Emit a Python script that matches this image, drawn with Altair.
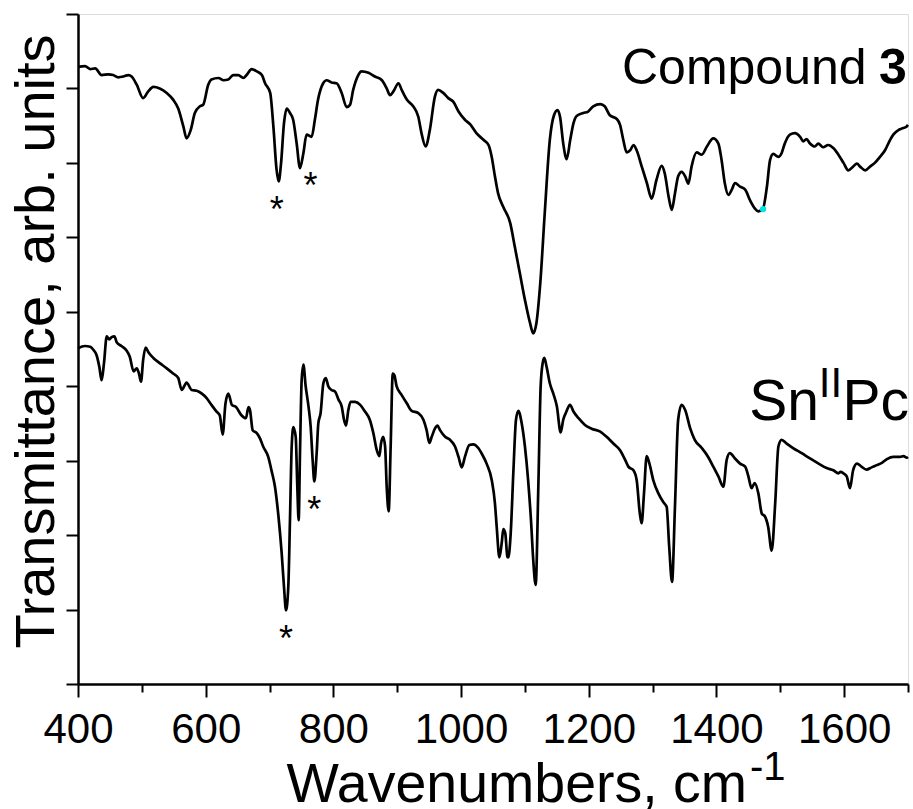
import altair as alt
import pandas as pd

# ---- Compound 3 trace (wavenumber cm^-1, transmittance arb. units) ----
c3_wn = [400, 411, 419, 427, 437, 447.5, 455, 463, 471, 479, 484, 492, 502, 510, 518, 528,
         539, 549, 557, 565, 570, 576.5, 583, 591, 596, 604, 609, 620, 628, 635.5, 643, 651,
         659, 664, 672, 680, 688, 693, 701, 706, 711, 714.3, 718, 722.6, 727, 732, 737, 742.5,
         747.7, 753, 758, 766, 771, 776, 784, 789.5, 797, 805, 813, 820.8, 826, 831, 839, 844,
         855, 865, 876, 883.5, 888.7, 894, 902, 907, 915, 925, 933, 938, 944.5, 951, 959, 964,
         972, 980, 988, 996, 1006, 1014, 1024, 1035, 1043, 1048, 1053, 1058, 1066, 1077, 1084,
         1092, 1100, 1108, 1113, 1118, 1124, 1131, 1139, 1145.5, 1151, 1155, 1160, 1165.4, 1171,
         1176, 1181, 1191.5, 1199, 1207, 1218, 1225, 1233, 1244, 1249, 1254, 1259.4, 1265, 1270,
         1275, 1283, 1291, 1298.5, 1306, 1314, 1319, 1325, 1330, 1335, 1340, 1345.5, 1351, 1356,
         1361, 1369, 1377, 1385, 1395, 1403, 1408, 1413, 1418.6, 1424, 1429, 1437, 1445, 1452.5,
         1460, 1465.6, 1473, 1479, 1484, 1489, 1497, 1502, 1507, 1515, 1523, 1531, 1536, 1541,
         1546.5, 1554, 1559.5, 1567, 1575, 1583, 1591, 1599, 1606.5, 1614, 1620, 1625, 1633,
         1640.5, 1648, 1656, 1664, 1672, 1677, 1685, 1690, 1698, 1700]
c3_tr = [8.29, 8.30, 8.26, 8.27, 8.18, 8.19, 8.18, 8.15, 8.16, 8.18, 8.16, 8.05, 7.87, 7.96, 8.02, 8.00,
         7.94, 7.85, 7.73, 7.49, 7.33, 7.44, 7.67, 7.76, 7.78, 8.05, 8.12, 8.14, 8.11, 8.12, 8.18, 8.18,
         8.14, 8.18, 8.26, 8.23, 8.18, 8.07, 7.94, 7.49, 6.91, 6.75, 6.99, 7.53, 7.73, 7.67, 7.58, 7.26,
         6.93, 7.13, 7.38, 7.35, 7.58, 7.85, 8.07, 8.11, 8.08, 8.07, 7.94, 7.75, 7.78, 7.98, 8.18, 8.23,
         8.21, 8.16, 8.11, 8.00, 7.91, 7.96, 8.07, 7.98, 7.85, 7.76, 7.62, 7.40, 7.22, 7.44, 7.89, 7.98,
         7.94, 7.87, 7.82, 7.69, 7.58, 7.52, 7.40, 7.31, 7.24, 7.08, 6.82, 6.59, 6.41, 6.19, 5.88,
         5.52, 5.16, 4.85, 4.71, 4.85, 5.38, 6.32, 7.31, 7.64, 7.71, 7.62, 7.26, 7.05, 7.31,
         7.53, 7.63, 7.67, 7.69, 7.76, 7.79, 7.76, 7.64, 7.59, 7.51, 7.31, 7.14, 7.17, 7.24,
         7.17, 6.95, 6.73, 6.52, 6.77, 6.96, 6.86, 6.55, 6.37, 6.59, 6.82, 6.88, 6.82, 6.72,
         6.95, 7.14, 7.11, 7.22, 7.33, 7.26, 7.04, 6.73, 6.57, 6.64, 6.73, 6.68, 6.64, 6.50,
         6.39, 6.35, 6.39, 6.68, 7.04, 7.12, 7.08, 7.13, 7.26, 7.38, 7.40, 7.35, 7.29, 7.32,
         7.26, 7.22, 7.26, 7.21, 7.24, 7.20, 7.11, 7.00, 6.90, 6.95, 6.99, 6.95, 6.90,
         6.95, 7.00, 7.08, 7.17, 7.31, 7.38, 7.44, 7.46, 7.49, 7.51]

# ---- Sn(II)Pc trace ----
sn_wn = [400, 411, 419, 424, 429, 433.4, 437, 440.7, 445, 449, 452.7, 457, 460.6, 468, 476, 481,
         487, 492, 495.5, 498.7, 502, 506, 510, 518, 528, 539, 549, 557, 562.4, 567.6, 570, 578,
         586, 594, 601.5, 609, 617, 622, 626.6, 631, 635.5, 641, 647.5, 656, 663, 667, 669.4,
         673.6, 680, 685, 690, 698, 703, 708.5, 714, 719, 722.6, 725.8, 729.4, 732, 734.7, 737.3,
         741, 743.5, 745.6, 747.7, 750.3, 753, 756.6, 761, 764.4, 767.5, 770.2, 773.8, 776.4, 780,
         784.3, 788, 792, 797, 802.5, 808, 813, 816.6, 819.8, 823.4, 827, 834, 842, 849.5, 857,
         862.6, 868, 872, 874.6, 878, 881, 883.5, 886.6, 889.7, 893, 895.5, 899, 907, 915, 922.6,
         933, 941, 946, 950.3, 954, 959, 963, 967, 975, 982.6, 990.5, 996, 1001, 1006, 1013, 1019,
         1027, 1032, 1040, 1048, 1053, 1055.8, 1060, 1063.6, 1066.2, 1069.3, 1072.5, 1074, 1077.7,
         1082, 1086, 1089.7, 1095, 1100, 1105, 1109.5, 1113, 1116.8, 1121, 1124.6, 1127.8, 1130.4,
         1134, 1139, 1144.5, 1150, 1156, 1160, 1165, 1170.6, 1176, 1184, 1194, 1204.5, 1218, 1228,
         1238.5, 1249, 1257, 1262, 1270, 1275, 1280, 1282.8, 1286.5, 1290.7, 1295, 1301, 1309,
         1317, 1322, 1326, 1330.4, 1335, 1340, 1345.5, 1351, 1359, 1366, 1377, 1387, 1395, 1403,
         1410.8, 1416, 1421, 1429, 1437, 1445, 1450, 1455, 1460, 1465.6, 1471, 1476, 1481,
         1486.5, 1492, 1497, 1502, 1510, 1520, 1533.5, 1546.5, 1560, 1572.6, 1583, 1591, 1594.5,
         1599, 1604, 1609.1, 1614, 1620, 1627, 1635, 1643, 1651, 1659, 1667, 1677, 1687.5,
         1693, 1698, 1700]
sn_tr = [4.51, 4.54, 4.53, 4.49, 4.42, 4.26, 4.08, 4.31, 4.67, 4.63, 4.66, 4.67, 4.59, 4.54, 4.48, 4.40,
         4.20, 4.24, 4.17, 4.06, 4.35, 4.52, 4.46, 4.38, 4.31, 4.24, 4.17, 4.11, 3.95, 4.02, 4.05, 3.95,
         3.94, 3.90, 3.84, 3.75, 3.66, 3.61, 3.35, 3.77, 3.90, 3.75, 3.72, 3.61, 3.57, 3.72, 3.68,
         3.41, 3.37, 3.30, 3.19, 3.05, 2.87, 2.65, 2.25, 1.76, 1.31, 0.99, 1.31, 2.20, 3.19, 3.45,
         3.32, 2.65, 2.20, 3.10, 4.08, 4.29, 4.00, 3.73, 3.46, 3.01, 2.72, 3.10, 3.50, 3.64,
         4.04, 4.11, 4.00, 3.95, 3.93, 3.82, 3.73, 3.55, 3.47, 3.68, 3.79, 3.79, 3.75, 3.66, 3.55,
         3.37, 3.14, 3.06, 3.23, 3.32, 3.19, 2.65, 2.32, 3.19, 4.17, 4.15, 4.00, 3.88, 3.77, 3.67,
         3.64, 3.55, 3.41, 3.24, 3.32, 3.43, 3.47, 3.41, 3.32, 3.28, 3.19, 3.05, 2.91, 3.05, 3.21, 3.22,
         3.17, 3.10, 2.96, 2.74, 2.43, 2.11, 1.70, 1.89, 2.08, 2.02, 1.71, 1.70, 2.02,
         2.87, 3.55, 3.67, 3.50, 3.19, 2.74, 2.20, 1.67, 1.33, 2.65, 3.99, 4.31, 4.38,
         4.26, 4.04, 3.90, 3.73, 3.38, 3.55, 3.66, 3.75, 3.66, 3.57, 3.48, 3.43, 3.39, 3.32,
         3.23, 3.14, 3.01, 2.92, 2.87, 2.74, 2.29, 2.16, 2.56, 3.06, 2.96, 2.74, 2.56,
         2.44, 2.38, 1.84, 1.37, 2.38, 3.55, 3.75, 3.68, 3.43, 3.28, 3.17, 3.05, 2.92, 2.79,
         2.65, 3.01, 3.10, 3.03, 2.96, 2.92, 2.79, 2.63, 2.70, 2.56, 2.29, 2.25, 2.11,
         1.79, 2.43, 3.19, 3.28, 3.23, 3.17, 3.10, 3.03, 2.96, 2.90, 2.87, 2.83, 2.85,
         2.83, 2.79, 2.63, 2.87, 2.96, 2.92, 2.88, 2.91, 2.94, 2.97, 3.02, 3.05, 3.05,
         3.06, 3.04, 3.05]

# ---- annotations ----
star_wn = [711.2, 764.2, 725.8, 770.1]
star_tr = [6.21, 6.53, 0.45, 2.17]
marker_wn = [1473]
marker_tr = [6.38]

FONT = "Liberation Sans"

spectra = pd.concat([
    pd.DataFrame({"wn": c3_wn, "tr": c3_tr, "sample": "Compound 3"}),
    pd.DataFrame({"wn": sn_wn, "tr": sn_tr, "sample": "SnIIPc"}),
])

x_scale = alt.Scale(domain=[400, 1700], nice=False, zero=False)
y_scale = alt.Scale(domain=[0, 9], nice=False, zero=False)

x_axis = alt.Axis(
    values=list(range(400, 1701, 100)),
    format="d",
    labelExpr="datum.value % 200 === 0 ? datum.label : ''",
    labelFont=FONT, labelFontSize=42, labelColor="black",
    labelPadding=12, labelOverlap=False, labelFlush=False,
    tickSize={"condition": {"test": "datum.value % 200 === 0", "value": 13}, "value": 8},
    tickColor="black", tickWidth=2,
    domainColor="black", domainWidth=2.5,
    grid=False,
    title="Wavenumbers, cm",
    titleFont=FONT, titleFontSize=55.5, titleFontWeight="normal", titleColor="black",
    titleAnchor="start", titleAlign="left", titleBaseline="alphabetic",
    titleX=208, titleY=117,
)
y_axis = alt.Axis(
    values=[i * 0.5 for i in range(19)],
    labels=False,
    tickSize={"condition": {"test": "datum.value % 1 === 0", "value": 12}, "value": 6},
    tickColor="black", tickWidth=2,
    domainColor="black", domainWidth=2.5,
    grid=False,
    title="Transmittance, arb. units",
    titleFont=FONT, titleFontSize=56, titleFontWeight="normal", titleColor="black",
    titleAngle=270, titleAlign="center", titleBaseline="alphabetic",
    titleX=-25, titleY=327,
)

lines = alt.Chart(spectra).mark_line(
    color="black", strokeWidth=2.7, interpolate="monotone"
).encode(
    x=alt.X("wn:Q", scale=x_scale, axis=x_axis),
    y=alt.Y("tr:Q", scale=y_scale, axis=y_axis),
    detail="sample:N",
)

stars = alt.Chart(pd.DataFrame({"wn": star_wn, "tr": star_tr, "t": ["*"] * 4})).mark_text(
    font=FONT, fontSize=36, color="black", align="center", baseline="alphabetic"
).encode(x=alt.X("wn:Q", scale=x_scale), y=alt.Y("tr:Q", scale=y_scale), text="t:N")

marker = alt.Chart(pd.DataFrame({"wn": marker_wn, "tr": marker_tr})).mark_point(
    filled=True, color="#00e5e5", size=40, opacity=1
).encode(x=alt.X("wn:Q", scale=x_scale), y=alt.Y("tr:Q", scale=y_scale))

def label(txt, wn, tr, size, weight="normal"):
    return alt.Chart(pd.DataFrame({"wn": [wn], "tr": [tr], "t": [txt]})).mark_text(
        font=FONT, fontSize=size, fontWeight=weight, color="black",
        align="left", baseline="alphabetic"
    ).encode(x=alt.X("wn:Q", scale=x_scale), y=alt.Y("tr:Q", scale=y_scale), text="t:N")

texts = [
    label("Compound", 1252, 8.06, 50),
    label("3", 1654.6, 8.06, 50, "bold"),
    label("Sn", 1451.2, 3.55, 57),
    label("II", 1560.3, 3.86, 42),
    label("Pc", 1597.3, 3.55, 57),
    label("-1", 1452.6, -1.29, 40),
]

chart = alt.layer(lines, marker, stars, *texts).properties(
    width=830, height=670,
    autosize=alt.AutoSizeParams(type="none"),
    padding={"left": 78, "top": 14, "right": 5, "bottom": 125},
).configure_view(stroke=None).configure(background="white")

chart.save("out.html", embed_options={"renderer": "svg", "actions": False})
